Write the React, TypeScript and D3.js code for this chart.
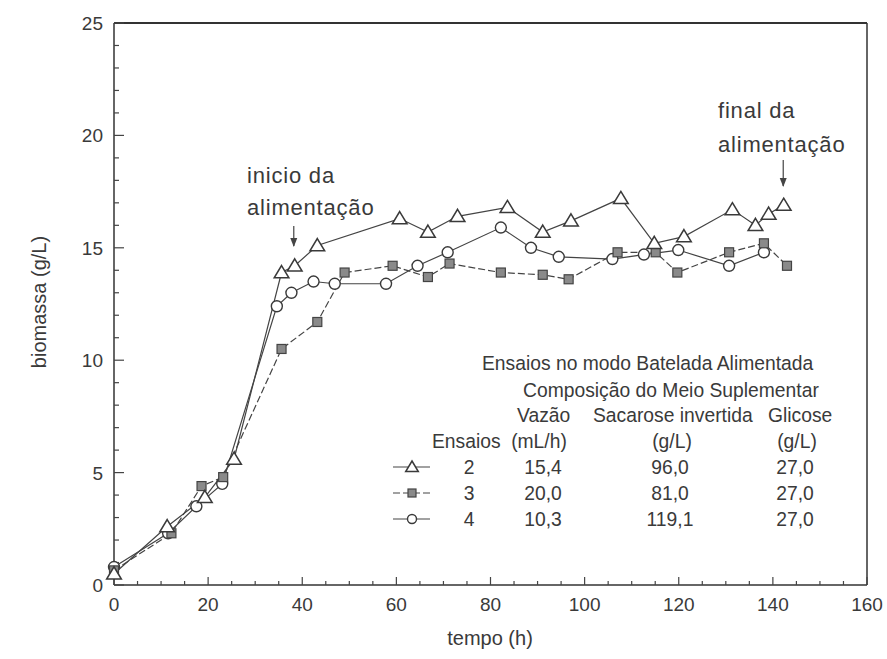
import React from "react";
import * as d3 from "d3";

const W = 887;
const H = 659;

// Ensaio 2 (triangles)
const tri_t = [0, 11.3, 19.3, 25.5, 35.6, 38.4, 43.2, 60.7, 66.7, 73.0, 83.6, 91.1, 97.1, 107.7, 114.8, 121.1, 131.4, 136.3, 139.1, 142.3];
const tri_y = [0.5, 2.6, 3.9, 5.6, 13.9, 14.2, 15.1, 16.3, 15.7, 16.4, 16.8, 15.7, 16.2, 17.2, 15.2, 15.5, 16.7, 16.0, 16.5, 16.9];
// Ensaio 3 (squares)
const sq_t = [0, 12.2, 18.6, 23.2, 35.6, 43.2, 49.0, 59.2, 66.7, 71.3, 82.2, 91.1, 96.6, 107.0, 115.1, 119.7, 130.7, 138.1, 143.0];
const sq_y = [0.65, 2.3, 4.4, 4.8, 10.5, 11.7, 13.9, 14.2, 13.7, 14.3, 13.9, 13.8, 13.6, 14.8, 14.8, 13.9, 14.8, 15.2, 14.2];
// Ensaio 4 (circles)
const ci_t = [0, 11.5, 17.5, 23.0, 34.6, 37.7, 42.4, 46.9, 57.8, 64.5, 70.9, 82.2, 88.6, 94.5, 105.9, 112.6, 119.9, 130.7, 138.1];
const ci_y = [0.8, 2.3, 3.5, 4.5, 12.4, 13.0, 13.5, 13.4, 13.4, 14.2, 14.8, 15.9, 15.0, 14.6, 14.5, 14.7, 14.9, 14.2, 14.8];

const xTicks = [0, 20, 40, 60, 80, 100, 120, 140, 160];
const yTicks = [0, 5, 10, 15, 20, 25];

const legendHeader1 = "Ensaios no modo Batelada Alimentada";
const legendHeader2 = "Composição do Meio Suplementar";
const legendCols1 = ["Vazão", "Sacarose invertida", "Glicose"];
const legendCols2 = ["Ensaios", "(mL/h)", "(g/L)", "(g/L)"];
const ensaios = ["2", "3", "4"];
const vazao = ["15,4", "20,0", "10,3"];
const sacarose = ["96,0", "81,0", "119,1"];
const glicose = ["27,0", "27,0", "27,0"];

const INK = "#3a3a3a";
const FONT = "'Liberation Sans', Arial, sans-serif";

function Tri({ x, y, s = 7 }: { x: number; y: number; s?: number }) {
  const p = `M${x},${y - s} L${x + s * 1.05},${y + s * 0.75} L${x - s * 1.05},${y + s * 0.75} Z`;
  return <path d={p} fill="white" stroke={INK} strokeWidth={1.5} />;
}
function Sq({ x, y, s = 4.5 }: { x: number; y: number; s?: number }) {
  return <rect x={x - s} y={y - s} width={2 * s} height={2 * s} fill="#8a8a8a" stroke="#444" strokeWidth={1.2} />;
}
function Ci({ x, y, r = 5.5 }: { x: number; y: number; r?: number }) {
  return <circle cx={x} cy={y} r={r} fill="white" stroke={INK} strokeWidth={1.4} />;
}

export default function App() {
  const x = d3.scaleLinear().domain([0, 160]).range([114, 867]);
  const y = d3.scaleLinear().domain([0, 25]).range([585, 23]);

  const line = d3
    .line<[number, number]>()
    .x((d) => x(d[0]))
    .y((d) => y(d[1]));

  const tri = tri_t.map((t, i) => [t, tri_y[i]] as [number, number]);
  const sq = sq_t.map((t, i) => [t, sq_y[i]] as [number, number]);
  const ci = ci_t.map((t, i) => [t, ci_y[i]] as [number, number]);

  const xMinor = d3.range(0, 161, 5);
  const yMinor = d3.range(0, 26, 1);

  const lx = x.range();
  const ly = y.range();

  return (
    <svg width={W} height={H} style={{ position: "absolute", left: 0, top: 0, background: "white" }} fontFamily={FONT}>
      <rect width={W} height={H} fill="white" />
      {/* frame */}
      <line x1={lx[0]} x2={lx[1]} y1={ly[0]} y2={ly[0]} stroke="#333" strokeWidth={1.5} />
      <line x1={lx[0]} x2={lx[1]} y1={ly[1]} y2={ly[1]} stroke="#333" strokeWidth={2} />
      <line x1={lx[0]} x2={lx[0]} y1={ly[0]} y2={ly[1]} stroke="#333" strokeWidth={1.5} />
      <line x1={lx[1]} x2={lx[1]} y1={ly[0]} y2={ly[1]} stroke="#333" strokeWidth={1.5} />

      {/* x ticks */}
      {xMinor.map((v) => (
        <line key={"xm" + v} x1={x(v)} x2={x(v)} y1={ly[0]} y2={ly[0] - (v % 20 === 0 ? 8 : 4)} stroke="#444" strokeWidth={1.2} />
      ))}
      {xTicks.map((v) => (
        <text key={"xt" + v} x={x(v)} y={611} textAnchor="middle" fontSize={19} fill={INK}>
          {v}
        </text>
      ))}
      {/* y ticks */}
      {yMinor.map((v) => (
        <line key={"ym" + v} x1={lx[0]} x2={lx[0] + (v % 5 === 0 ? 10 : 5)} y1={y(v)} y2={y(v)} stroke="#444" strokeWidth={1.2} />
      ))}
      {yTicks.map((v) => (
        <text key={"yt" + v} x={103} y={y(v) + 7} textAnchor="end" fontSize={19} fill={INK}>
          {v}
        </text>
      ))}

      <text x={490} y={645} textAnchor="middle" fontSize={20} fill={INK}>
        tempo (h)
      </text>
      <text transform={`translate(46,302) rotate(-90)`} textAnchor="middle" fontSize={20} fill={INK}>
        biomassa (g/L)
      </text>

      {/* series lines */}
      <path d={line(tri) || ""} fill="none" stroke="#444" strokeWidth={1.2} />
      <path d={line(sq) || ""} fill="none" stroke="#444" strokeWidth={1.2} strokeDasharray="7,3" />
      <path d={line(ci) || ""} fill="none" stroke="#444" strokeWidth={1.2} />

      {ci.map((d, i) => (
        <Ci key={"c" + i} x={x(d[0])} y={y(d[1])} />
      ))}
      {sq.map((d, i) => (
        <Sq key={"s" + i} x={x(d[0])} y={y(d[1])} />
      ))}
      {tri.map((d, i) => (
        <Tri key={"t" + i} x={x(d[0])} y={y(d[1])} />
      ))}

      {/* annotations */}
      <g fontSize={22} fill={INK} letterSpacing={0.8}>
        <text x={247} y={183}>inicio da</text>
        <text x={247} y={215}>alimentação</text>
        <text x={718} y={118}>final da</text>
        <text x={718} y={152}>alimentação</text>
      </g>
      <line x1={x(38.2)} x2={x(38.2)} y1={226} y2={246} stroke="#444" strokeWidth={1.2} />
      <path d={`M${x(38.2) - 3.5},238 L${x(38.2) + 3.5},238 L${x(38.2)},247 Z`} fill="#444" />
      <line x1={x(142.2)} x2={x(142.2)} y1={160} y2={186} stroke="#444" strokeWidth={1.2} />
      <path d={`M${x(142.2) - 3.5},178 L${x(142.2) + 3.5},178 L${x(142.2)},187 Z`} fill="#444" />

      {/* legend table */}
      <g fontSize={19.3} fill={INK}>
        <text x={482} y={370}>{legendHeader1}</text>
        <text x={523} y={397}>{legendHeader2}</text>
        <text x={517} y={422}>{legendCols1[0]}</text>
        <text x={593} y={422}>{legendCols1[1]}</text>
        <text x={768} y={422}>{legendCols1[2]}</text>
        <text x={432} y={448}>{legendCols2[0]}</text>
        <text x={539} y={448} textAnchor="middle">{legendCols2[1]}</text>
        <text x={672} y={448} textAnchor="middle">{legendCols2[2]}</text>
        <text x={797} y={448} textAnchor="middle">{legendCols2[3]}</text>
        {ensaios.map((e, i) => {
          const by = 474 + i * 26;
          return (
            <g key={"lg" + i}>
              <text x={469} y={by} textAnchor="middle">{e}</text>
              <text x={543} y={by} textAnchor="middle">{vazao[i]}</text>
              <text x={670} y={by} textAnchor="middle">{sacarose[i]}</text>
              <text x={795} y={by} textAnchor="middle">{glicose[i]}</text>
            </g>
          );
        })}
        <line x1={393} x2={430} y1={467} y2={467} stroke="#444" strokeWidth={1.2} />
        <Tri x={412} y={467} s={6} />
        <line x1={393} x2={430} y1={493} y2={493} stroke="#444" strokeWidth={1.2} strokeDasharray="7,3" />
        <Sq x={412} y={493} s={4} />
        <line x1={393} x2={430} y1={519} y2={519} stroke="#444" strokeWidth={1.2} />
        <Ci x={412} y={519} r={4.5} />
      </g>
    </svg>
  );
}
